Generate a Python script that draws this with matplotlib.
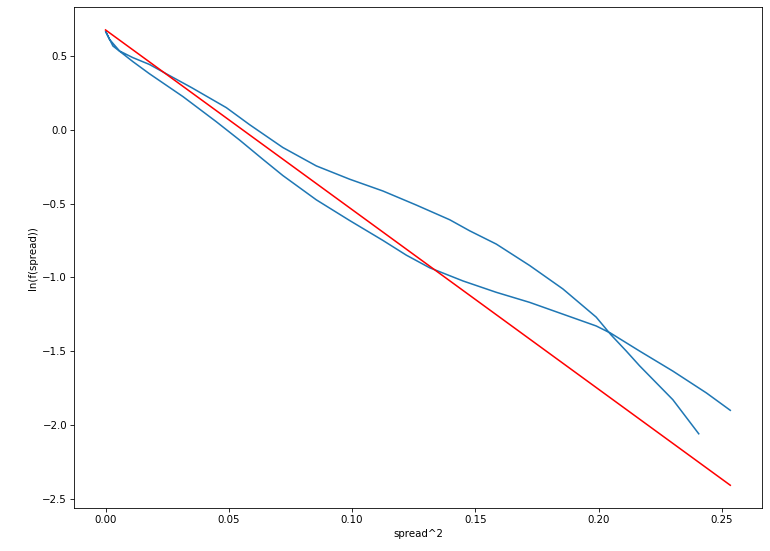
import matplotlib
matplotlib.use("Agg")
import matplotlib.pyplot as plt
import numpy as np

# branch that ends highest on the right (lower of the two in the middle)
lower_x = [0.0, 0.003, 0.0111, 0.0178, 0.0314, 0.0449, 0.0544, 0.0638, 0.0719, 0.0855,
           0.099, 0.1125, 0.122, 0.1314, 0.145, 0.1585, 0.172, 0.1855, 0.199, 0.205,
           0.2166, 0.2301, 0.2437, 0.2534]
lower_y = [0.668, 0.568, 0.462, 0.38, 0.225, 0.055, -0.07, -0.2, -0.31, -0.475,
           -0.615, -0.75, -0.85, -0.935, -1.025, -1.102, -1.170, -1.250, -1.33, -1.38,
           -1.50, -1.636, -1.784, -1.902]

# branch that is upper in the middle and ends lowest on the right
upper_x = [0.0, 0.0016, 0.0057, 0.0111, 0.0178, 0.0246, 0.035, 0.049, 0.0584, 0.0719,
           0.0855, 0.099, 0.1125, 0.126, 0.1396, 0.1477, 0.1585, 0.172, 0.1855, 0.199,
           0.205, 0.2112, 0.2166, 0.2301, 0.2406]
upper_y = [0.675, 0.613, 0.534, 0.489, 0.443, 0.38, 0.285, 0.15, 0.035, -0.12,
           -0.245, -0.335, -0.415, -0.51, -0.61, -0.685, -0.775, -0.92, -1.079, -1.27,
           -1.39, -1.50, -1.60, -1.83, -2.061]

# linear fit
fit_x = [0.0, 0.2534]
fit_y = [0.677, -2.41]

# one continuous curve: out along one branch, back to x=0, out along the other
curve_x = list(reversed(lower_x)) + upper_x[1:]
curve_y = list(reversed(lower_y)) + upper_y[1:]

fig = plt.figure(figsize=(770 / 74, 551 / 74), dpi=74)
ax = fig.add_subplot(111)
fig.subplots_adjust(left=0.0965, right=0.989, bottom=0.078, top=0.987)

ax.plot(curve_x, curve_y, color='#1f77b4')
ax.plot(fit_x, fit_y, color='red')

ax.set_xlabel('spread^2')
ax.set_ylabel('ln(f(spread))')

plt.savefig('out.png', dpi=74)
